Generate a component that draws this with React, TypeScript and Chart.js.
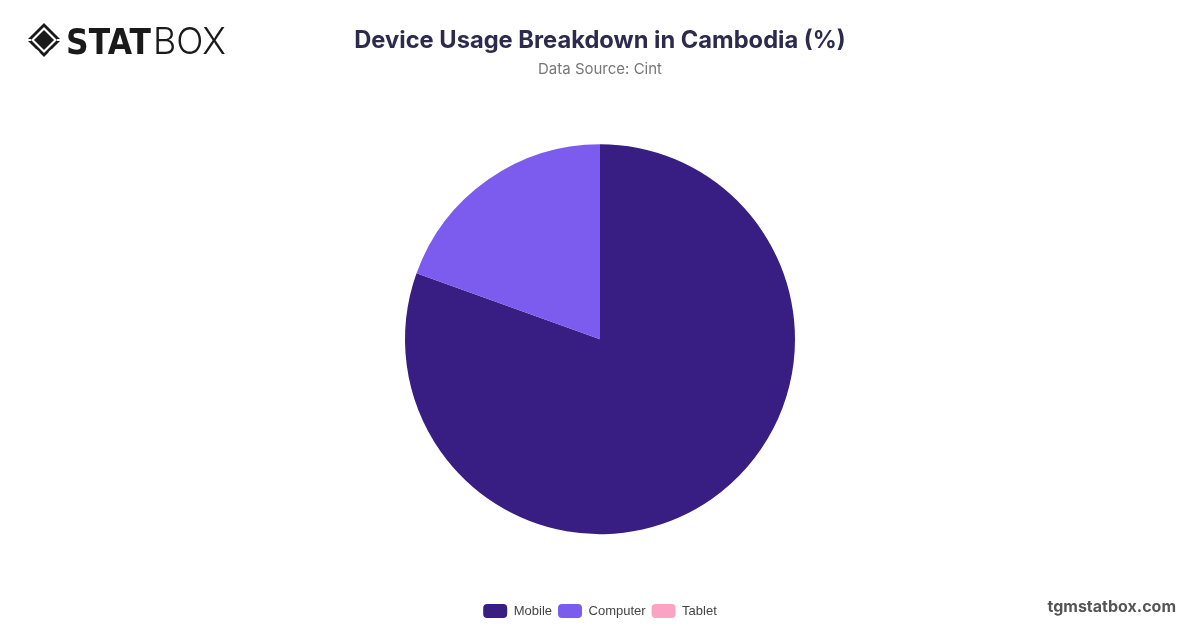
import React, { useEffect, useRef } from "react";
import { Chart, registerables } from "chart.js";

Chart.register(...registerables);

const categories = ["Mobile", "Computer", "Tablet"];
const shares = [80.5, 19.5, 0];
const sliceColors = ["#381d82", "#7b5cef", "#fba3c3"];
const chartTitle = "Device Usage Breakdown in Cambodia (%)";
const chartSubtitle = "Data Source: Cint";

function Logo() {
  return (
    <svg width="240" height="60" viewBox="0 0 240 60" style={{ position: "absolute", left: 20, top: 10 }}>
      <g transform="translate(24,30)">
        <polygon points="0,-17 17,0 0,17 -17,0" fill="#1a1a1a" />
        <polygon points="0,-13 13,0 0,13 -13,0" fill="#ffffff" />
        <polygon points="0,-10 10,0 0,10 -10,0" fill="#1a1a1a" />
        <line x1="-17" y1="0" x2="-13" y2="0" stroke="#fff" strokeWidth="2" />
        <line x1="17" y1="0" x2="13" y2="0" stroke="#fff" strokeWidth="2" />
        <line x1="-8" y1="10" x2="-5" y2="13" stroke="#fff" strokeWidth="2" />
        <line x1="8" y1="10" x2="5" y2="13" stroke="#fff" strokeWidth="2" />
      </g>
      <text x="46" y="44" fontFamily="DejaVu Sans, Inter, sans-serif" fontWeight="900" fontSize="36" fill="#1a1a1a" textLength="85" lengthAdjust="spacingAndGlyphs">STAT</text>
      <text x="133" y="44" fontFamily="Inter, Liberation Sans, sans-serif" fontWeight="300" fontSize="37" fill="#1a1a1a" textLength="73" lengthAdjust="spacingAndGlyphs">BOX</text>
    </svg>
  );
}

export default function App() {
  const canvasRef = useRef<HTMLCanvasElement | null>(null);

  useEffect(() => {
    document.body.style.margin = "0";
    const ctx = canvasRef.current;
    if (!ctx) return;
    const chart = new Chart(ctx, {
      type: "pie",
      data: {
        labels: categories,
        datasets: [
          {
            data: shares,
            backgroundColor: sliceColors,
            borderWidth: 0,
          },
        ],
      },
      options: {
        responsive: false,
        animation: false,
        radius: 195,
        layout: { padding: 0 },
        plugins: {
          title: {
            display: true,
            text: chartTitle,
            color: "#2e2a4d",
            font: { family: "Inter, Liberation Sans, sans-serif", size: 23.7, weight: "bold" },
            padding: { top: 27, bottom: 4 },
          },
          subtitle: {
            display: true,
            text: chartSubtitle,
            color: "#777777",
            font: { family: "Inter, Liberation Sans, sans-serif", size: 15 },
            padding: { top: 1, bottom: 2 },
          },
          legend: {
            position: "bottom",
            labels: {
              boxWidth: 24,
              boxHeight: 14,
              useBorderRadius: true,
              borderRadius: 4,
              color: "#444444",
              padding: 6,
              font: { family: "Liberation Sans, Inter, sans-serif", size: 13 },
            },
          },
          tooltip: { enabled: false },
        },
      },
    });
    return () => chart.destroy();
  }, []);

  return (
    <div style={{ position: "relative", width: 1200, height: 628, background: "#ffffff", overflow: "hidden" }}>
      <canvas ref={canvasRef} width={1200} height={628} style={{ position: "absolute", left: 0, top: 0 }} />
      <Logo />
      <div
        style={{
          position: "absolute",
          right: 24,
          top: 596,
          fontFamily: "Inter, Liberation Sans, sans-serif",
          fontWeight: 700,
          fontSize: 16,
          color: "#555555",
        }}
      >
        tgmstatbox.com
      </div>
    </div>
  );
}
